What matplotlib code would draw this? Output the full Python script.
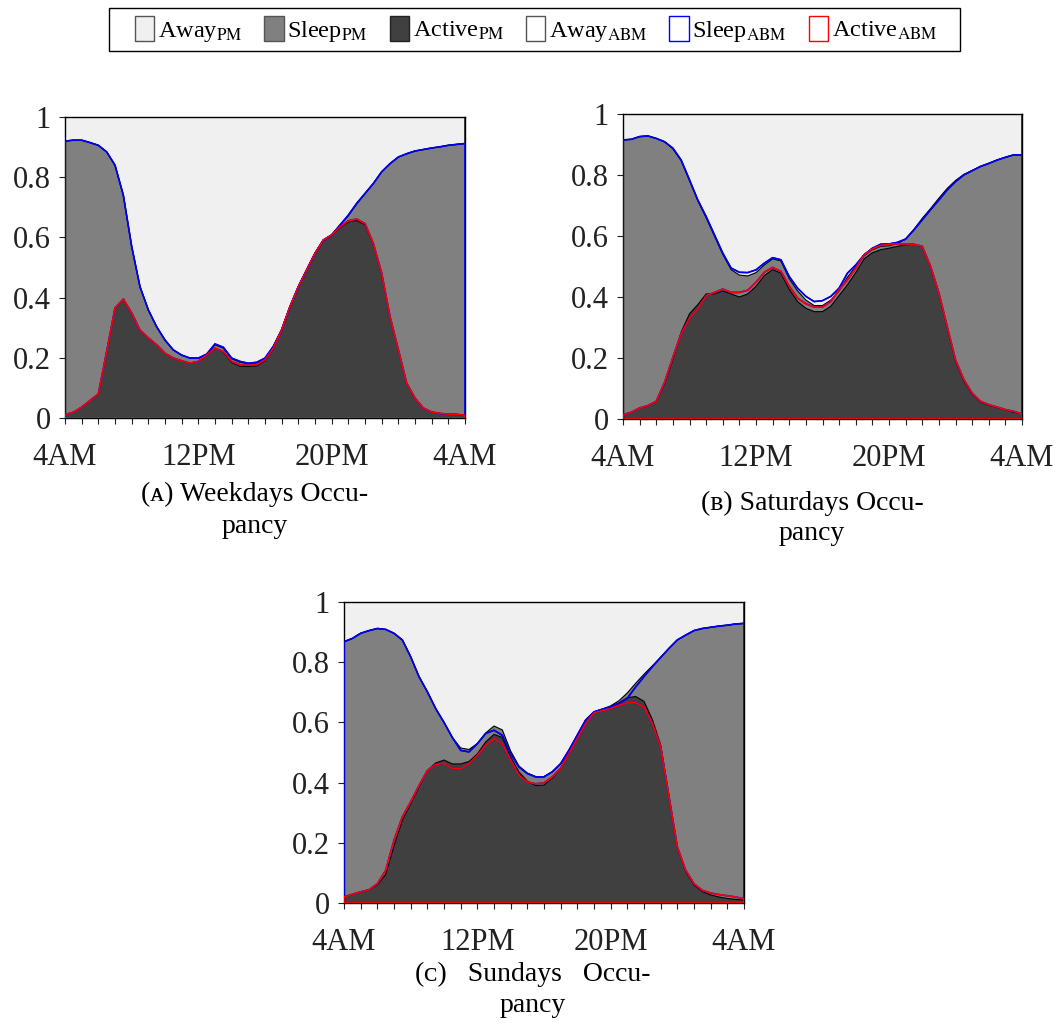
import numpy as np
import matplotlib
matplotlib.use("Agg")
import matplotlib.pyplot as plt
from matplotlib.patches import Patch, Rectangle

plt.rcParams['font.family'] = ['Liberation Serif', 'DejaVu Serif']
plt.rcParams['mathtext.fontset'] = 'stix'

# half-hour grid, 4AM -> 4AM next day
hours = np.linspace(0, 24, 49)

# ---- Weekdays ----
wk_active_pm = [0.011, 0.019, 0.036, 0.058, 0.08, 0.22, 0.365, 0.395, 0.349, 0.292,
                0.266, 0.243, 0.215, 0.199, 0.19, 0.182, 0.188, 0.207, 0.232, 0.219,
                0.184, 0.172, 0.171, 0.173, 0.19, 0.23, 0.29, 0.366, 0.433, 0.49,
                0.545, 0.588, 0.606, 0.632, 0.651, 0.656, 0.642, 0.578, 0.48, 0.337,
                0.227, 0.116, 0.066, 0.033, 0.02, 0.015, 0.013, 0.012, 0.009]
wk_active_abm = [0.011, 0.019, 0.036, 0.058, 0.08, 0.22, 0.365, 0.395, 0.349, 0.292,
                 0.266, 0.243, 0.215, 0.199, 0.19, 0.182, 0.188, 0.209, 0.232, 0.221,
                 0.188, 0.177, 0.175, 0.177, 0.193, 0.232, 0.293, 0.37, 0.436, 0.492,
                 0.547, 0.591, 0.608, 0.635, 0.655, 0.661, 0.646, 0.58, 0.481, 0.337,
                 0.227, 0.116, 0.066, 0.033, 0.02, 0.015, 0.013, 0.012, 0.009]
wk_home_pm = [0.92, 0.923, 0.923, 0.915, 0.906, 0.884, 0.84, 0.74, 0.57, 0.436,
              0.359, 0.303, 0.259, 0.226, 0.209, 0.199, 0.199, 0.212, 0.243, 0.232,
              0.197, 0.185, 0.18, 0.183, 0.197, 0.238, 0.293, 0.37, 0.436, 0.492,
              0.547, 0.591, 0.608, 0.641, 0.672, 0.711, 0.745, 0.779, 0.818, 0.845,
              0.867, 0.878, 0.887, 0.892, 0.897, 0.901, 0.906, 0.909, 0.912]
wk_home_abm = [0.92, 0.923, 0.923, 0.915, 0.906, 0.884, 0.84, 0.74, 0.57, 0.436,
               0.359, 0.303, 0.259, 0.226, 0.209, 0.199, 0.199, 0.212, 0.246, 0.235,
               0.199, 0.188, 0.182, 0.185, 0.199, 0.238, 0.293, 0.37, 0.436, 0.492,
               0.547, 0.591, 0.608, 0.641, 0.674, 0.713, 0.746, 0.779, 0.818, 0.845,
               0.867, 0.878, 0.887, 0.892, 0.897, 0.901, 0.906, 0.909, 0.912]

# ---- Saturdays ----
sa_active_pm = [0.014, 0.022, 0.036, 0.044, 0.058, 0.115, 0.195, 0.285, 0.345, 0.375,
                0.41, 0.41, 0.42, 0.41, 0.40, 0.41, 0.435, 0.47, 0.49, 0.478,
                0.425, 0.385, 0.363, 0.352, 0.352, 0.37, 0.405, 0.44, 0.48, 0.525,
                0.545, 0.555, 0.56, 0.566, 0.571, 0.573, 0.566, 0.5, 0.413, 0.3,
                0.19, 0.125, 0.082, 0.056, 0.045, 0.038, 0.03, 0.022, 0.017]
sa_active_abm = [0.014, 0.022, 0.036, 0.044, 0.058, 0.12, 0.202, 0.28, 0.33, 0.36,
                 0.404, 0.415, 0.426, 0.415, 0.415, 0.422, 0.448, 0.481, 0.497, 0.484,
                 0.435, 0.396, 0.378, 0.367, 0.367, 0.385, 0.424, 0.456, 0.495, 0.538,
                 0.558, 0.569, 0.573, 0.574, 0.574, 0.573, 0.566, 0.5, 0.413, 0.303,
                 0.194, 0.129, 0.085, 0.058, 0.047, 0.039, 0.031, 0.025, 0.017]
sa_home_pm = [0.915, 0.917, 0.926, 0.928, 0.92, 0.909, 0.886, 0.847, 0.782, 0.716,
              0.66, 0.6, 0.54, 0.49, 0.472, 0.469, 0.48, 0.505, 0.525, 0.518,
              0.46, 0.42, 0.39, 0.372, 0.372, 0.39, 0.42, 0.465, 0.5, 0.535,
              0.555, 0.566, 0.568, 0.575, 0.59, 0.622, 0.658, 0.69, 0.724, 0.756,
              0.782, 0.802, 0.815, 0.828, 0.838, 0.849, 0.858, 0.866, 0.866]
sa_home_abm = [0.915, 0.917, 0.926, 0.928, 0.92, 0.909, 0.888, 0.849, 0.784, 0.718,
               0.664, 0.604, 0.544, 0.495, 0.481, 0.48, 0.489, 0.511, 0.529, 0.522,
               0.467, 0.429, 0.402, 0.385, 0.388, 0.402, 0.429, 0.478, 0.505, 0.538,
               0.56, 0.573, 0.574, 0.579, 0.59, 0.62, 0.653, 0.686, 0.718, 0.751,
               0.778, 0.8, 0.814, 0.828, 0.838, 0.849, 0.858, 0.866, 0.866]

# ---- Sundays ----
su_active_pm = [0.02, 0.029, 0.037, 0.044, 0.06, 0.095, 0.19, 0.275, 0.33, 0.385,
                0.44, 0.465, 0.475, 0.462, 0.462, 0.47, 0.495, 0.535, 0.56, 0.55,
                0.485, 0.435, 0.405, 0.39, 0.392, 0.415, 0.447, 0.5, 0.55, 0.6,
                0.633, 0.642, 0.652, 0.665, 0.682, 0.686, 0.67, 0.61, 0.525, 0.355,
                0.186, 0.105, 0.06, 0.038, 0.027, 0.02, 0.015, 0.012, 0.01]
su_active_abm = [0.02, 0.029, 0.037, 0.044, 0.064, 0.108, 0.208, 0.286, 0.336, 0.39,
                 0.44, 0.46, 0.465, 0.446, 0.446, 0.463, 0.49, 0.524, 0.546, 0.529,
                 0.474, 0.424, 0.402, 0.396, 0.399, 0.419, 0.447, 0.497, 0.547, 0.596,
                 0.632, 0.639, 0.646, 0.657, 0.665, 0.665, 0.652, 0.596, 0.519, 0.353,
                 0.186, 0.109, 0.064, 0.042, 0.033, 0.028, 0.024, 0.02, 0.014]
su_home_pm = [0.868, 0.879, 0.896, 0.905, 0.912, 0.909, 0.896, 0.874, 0.818, 0.752,
              0.702, 0.646, 0.6, 0.55, 0.515, 0.51, 0.53, 0.565, 0.588, 0.575,
              0.505, 0.455, 0.432, 0.42, 0.42, 0.436, 0.463, 0.508, 0.558, 0.608,
              0.635, 0.644, 0.655, 0.672, 0.698, 0.73, 0.76, 0.788, 0.816, 0.846,
              0.874, 0.89, 0.905, 0.912, 0.916, 0.92, 0.923, 0.927, 0.929]
su_home_abm = [0.868, 0.879, 0.896, 0.905, 0.912, 0.909, 0.896, 0.874, 0.818, 0.752,
               0.702, 0.646, 0.6, 0.55, 0.507, 0.502, 0.529, 0.563, 0.574, 0.557,
               0.496, 0.452, 0.43, 0.419, 0.419, 0.436, 0.463, 0.508, 0.558, 0.608,
               0.635, 0.644, 0.652, 0.663, 0.68, 0.718, 0.752, 0.785, 0.816, 0.846,
               0.874, 0.89, 0.905, 0.912, 0.916, 0.92, 0.923, 0.927, 0.929]

x_tick_pos = [0, 8, 16, 24]
x_tick_labels = ['4AM', '12PM', '20PM', '4AM']
y_ticks = [0, 0.2, 0.4, 0.6, 0.8, 1.0]
y_tick_labels = ['0', '0.2', '0.4', '0.6', '0.8', '1']

C_AWAY = '#f0f0f0'
C_SLEEP = '#808080'
C_ACTIVE = '#404040'

fig = plt.figure(figsize=(10.62, 10.26), dpi=100)
W, H = 1062, 1026


def rect(l, t, r, b):
    return [l / W, 1 - b / H, (r - l) / W, (b - t) / H]


def panel(box, active_pm, home_pm, active_abm, home_abm):
    ax = fig.add_axes(box)
    a_pm = np.array(active_pm)
    h_pm = np.array(home_pm)
    a_abm = np.array(active_abm)
    h_abm = np.array(home_abm)
    # measured occupancy as stacked areas
    ax.fill_between(hours, h_pm, 1, facecolor=C_AWAY, edgecolor='none', zorder=1)
    ax.fill_between(hours, a_pm, h_pm, facecolor=C_SLEEP, edgecolor='none', zorder=1)
    ax.fill_between(hours, 0, a_pm, facecolor=C_ACTIVE, edgecolor='none', zorder=1)
    ax.plot(hours, h_pm, color='black', lw=0.8, zorder=2)
    ax.plot(hours, a_pm, color='black', lw=0.8, zorder=2)
    # model occupancy as outlined areas
    ax.fill_between(hours, h_abm, 1, facecolor='none', edgecolor='black', lw=1.0, zorder=3)
    ax.fill_between(hours, a_abm, h_abm, facecolor='none', edgecolor='#0000ff', lw=1.2, zorder=4)
    ax.fill_between(hours, 0, a_abm, facecolor='none', edgecolor='#ff0000', lw=1.2, zorder=5)
    ax.set_xlim(0, 24)
    ax.set_ylim(0, 1)
    ax.set_xticks(range(25))
    ax.set_xticklabels([x_tick_labels[x_tick_pos.index(h)] if h in x_tick_pos else ''
                        for h in range(25)])
    ax.set_yticks(y_ticks)
    ax.set_yticklabels(y_tick_labels)
    ax.tick_params(axis='both', direction='out', length=4, width=0.8,
                   colors='#222222', labelsize=22)
    ax.tick_params(axis='x', pad=14)
    ax.tick_params(axis='y', pad=6)
    for s in ax.spines.values():
        s.set_color('black')
        s.set_linewidth(1.0)
        s.set_zorder(2.5)
    return ax


panel(rect(65, 117, 465, 418), wk_active_pm, wk_home_pm, wk_active_abm, wk_home_abm)
panel(rect(623, 114, 1022, 419), sa_active_pm, sa_home_pm, sa_active_abm, sa_home_abm)
panel(rect(344, 602, 744, 903), su_active_pm, su_home_pm, su_active_abm, su_home_abm)

cap_kw = dict(ha='center', va='baseline', fontsize=20, color='black')
fig.text(255 / W, 1 - 501 / H, '(ᴀ) Weekdays Occu-', **cap_kw)
fig.text(255 / W, 1 - 533 / H, 'pancy', **cap_kw)
fig.text(812 / W, 1 - 510 / H, '(ʙ) Saturdays Occu-', **cap_kw)
fig.text(812 / W, 1 - 540 / H, 'pancy', **cap_kw)
fig.text(533 / W, 1 - 981 / H, '(ᴄ)   Sundays   Occu-', **cap_kw)
fig.text(533 / W, 1 - 1012 / H, 'pancy', **cap_kw)

handles = [
    Patch(facecolor=C_AWAY, edgecolor='#555555', lw=1.0),
    Patch(facecolor=C_SLEEP, edgecolor='#555555', lw=1.0),
    Patch(facecolor=C_ACTIVE, edgecolor='#222222', lw=1.0),
    Patch(facecolor='white', edgecolor='#555555', lw=1.0),
    Patch(facecolor='white', edgecolor='#0000ff', lw=1.0),
    Patch(facecolor='white', edgecolor='#ff0000', lw=1.0),
]
labels = [r'Away$_{\mathrm{PM}}$', r'Sleep$_{\mathrm{PM}}$', r'Active$_{\mathrm{PM}}$',
          r'Away$_{\mathrm{ABM}}$', r'Sleep$_{\mathrm{ABM}}$', r'Active$_{\mathrm{ABM}}$']
fig.legend(handles, labels, loc='center', bbox_to_anchor=(536 / W, 1 - 30 / H),
           ncol=6, fontsize=17.5, frameon=False,
           handlelength=0.8, handleheight=1.2, handletextpad=0.15,
           columnspacing=0.9, borderpad=0.0, borderaxespad=0)
fig.add_artist(Rectangle((109 / W, 1 - 51 / H), (960 - 109) / W, 43 / H,
                         transform=fig.transFigure, facecolor='none',
                         edgecolor='black', lw=1.0))

fig.savefig('out.png', dpi=100)
